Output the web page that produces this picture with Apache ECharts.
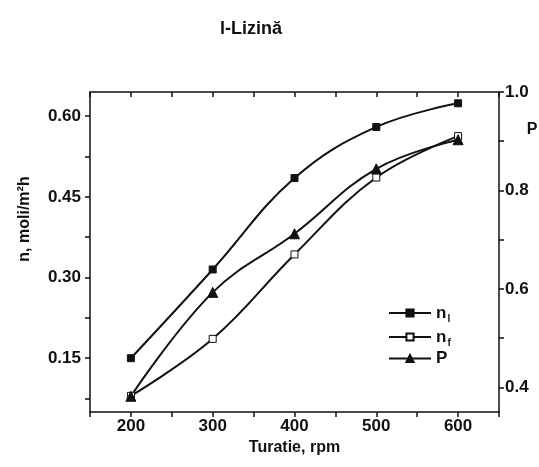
<!DOCTYPE html>
<html>
<head>
<meta charset="utf-8">
<script src="https://cdn.jsdelivr.net/npm/echarts@6/dist/echarts.min.js"></script>
<style>
  html, body { margin: 0; padding: 0; background: #fff; }
  #chart { width: 539px; height: 467px; }
</style>
</head>
<body>
<div id="chart"></div>
<script>
// Stirring speed (rpm) and measured quantities for l-Lysine
const speeds = [200, 300, 400, 500, 600];
const fluxInitial = [0.150, 0.315, 0.485, 0.580, 0.624];   // n_l, mol/m2h
const fluxFinal   = [0.080, 0.186, 0.343, 0.486, 0.563];   // n_f, mol/m2h
const recoveryP   = [0.382, 0.593, 0.712, 0.844, 0.903];   // P (right axis)

const xTicks = [200, 300, 400, 500, 600];
const leftLabels = [0.15, 0.30, 0.45, 0.60];
const leftTicks = [0.075, 0.15, 0.225, 0.30, 0.375, 0.45, 0.525, 0.60];
const rightLabels = [0.4, 0.6, 0.8, 1.0];
const rightTicks = [0.4, 0.5, 0.6, 0.7, 0.8, 0.9, 1.0];

const pairs = (ys) => speeds.map((x, i) => [x, ys[i]]);

const FONT = 'Liberation Sans, Arial, sans-serif';
const INK = '#111';
const axisLineStyle = { color: INK, width: 1.5 };
const labelFont = { fontFamily: FONT, fontSize: 17, fontWeight: 'bold', color: INK };

const chart = echarts.init(document.getElementById('chart'), null, { renderer: 'canvas' });

chart.setOption({
  backgroundColor: '#fff',
  animation: false,
  title: {
    text: 'l-Lizină',
    left: 246, top: 15,
    textAlign: 'center',
    textStyle: { fontFamily: FONT, fontSize: 18, fontWeight: 'bold', color: INK }
  },
  grid: { left: 90, right: 40, top: 92, bottom: 55 },
  legend: {
    orient: 'vertical',
    left: 383, top: 297,
    itemWidth: 42, itemHeight: 9, itemGap: 2,
    data: ['nl', 'nf', 'P'],
    formatter: (name) => name === 'P' ? '{n|P}' : '{n|n}{s|' + name.charAt(1) + '}',
    textStyle: {
      fontFamily: FONT, color: INK,
      rich: {
        n: { fontFamily: FONT, fontSize: 17, fontWeight: 'bold', color: INK, lineHeight: 18 },
        s: { fontFamily: FONT, fontSize: 10, fontWeight: 'bold', color: INK, lineHeight: 18, padding: [12, 0, 0, 1] }
      }
    }
  },
  xAxis: [
    {
      type: 'value', position: 'bottom',
      min: 150, max: 650, interval: 50,
      name: 'Turatie, rpm', nameLocation: 'middle', nameGap: 27,
      nameTextStyle: { fontFamily: FONT, fontSize: 16, fontWeight: 'bold', color: INK },
      axisLine: { show: true, lineStyle: axisLineStyle },
      axisTick: { show: true, inside: false, length: 5, lineStyle: axisLineStyle },
      axisLabel: Object.assign({}, labelFont, {
        margin: 6,
        formatter: (v) => xTicks.indexOf(v) >= 0 ? String(v) : ''
      }),
      splitLine: { show: false }
    },
    {
      type: 'value', position: 'top',
      min: 150, max: 650, interval: 50,
      axisLine: { show: true, lineStyle: axisLineStyle },
      axisTick: { show: true, inside: true, length: 5, lineStyle: axisLineStyle },
      axisLabel: { show: false },
      splitLine: { show: false }
    }
  ],
  yAxis: [
    {
      type: 'value', position: 'left',
      min: 0.05, max: 0.645,
      axisLine: { show: true, lineStyle: axisLineStyle },
      axisTick: { show: true, inside: false, length: 5, lineStyle: axisLineStyle, customValues: leftTicks },
      axisLabel: Object.assign({}, labelFont, {
        margin: 9,
        customValues: leftLabels,
        formatter: (v) => v.toFixed(2)
      }),
      splitLine: { show: false }
    },
    {
      type: 'value', position: 'right',
      min: 0.35, max: 1.0,
      axisLine: { show: true, lineStyle: axisLineStyle },
      axisTick: { show: true, inside: false, length: 5, lineStyle: axisLineStyle, customValues: rightTicks },
      axisLabel: Object.assign({}, labelFont, {
        margin: 6,
        customValues: rightLabels,
        formatter: (v) => v.toFixed(1)
      }),
      splitLine: { show: false }
    }
  ],
  graphic: [
    {
      // left axis title, rotated
      type: 'text', x: 25, y: 219, rotation: Math.PI / 2,
      style: {
        text: 'n, moli/m²h', font: 'bold 16px ' + FONT, fill: INK,
        align: 'center', verticalAlign: 'middle'
      }
    },
    {
      // right axis title
      type: 'text', x: 532, y: 130,
      style: {
        text: 'P', font: 'bold 16px ' + FONT, fill: INK,
        align: 'center', verticalAlign: 'middle'
      }
    }
  ],
  series: [
    {
      name: 'nl', type: 'line', xAxisIndex: 0, yAxisIndex: 0,
      data: pairs(fluxInitial), smooth: 0.4,
      symbol: 'rect', symbolSize: 7,
      lineStyle: { color: INK, width: 2 },
      itemStyle: { color: INK, borderColor: INK, borderWidth: 1 }
    },
    {
      name: 'nf', type: 'line', xAxisIndex: 0, yAxisIndex: 0,
      data: pairs(fluxFinal), smooth: 0.4,
      symbol: 'rect', symbolSize: 7,
      lineStyle: { color: INK, width: 2 },
      itemStyle: { color: '#fff', borderColor: INK, borderWidth: 1 }
    },
    {
      name: 'P', type: 'line', xAxisIndex: 0, yAxisIndex: 1,
      data: pairs(recoveryP), smooth: 0.4,
      symbol: 'triangle', symbolSize: 10,
      lineStyle: { color: INK, width: 2 },
      itemStyle: { color: INK, borderColor: INK, borderWidth: 1 }
    }
  ]
});
</script>
</body>
</html>
